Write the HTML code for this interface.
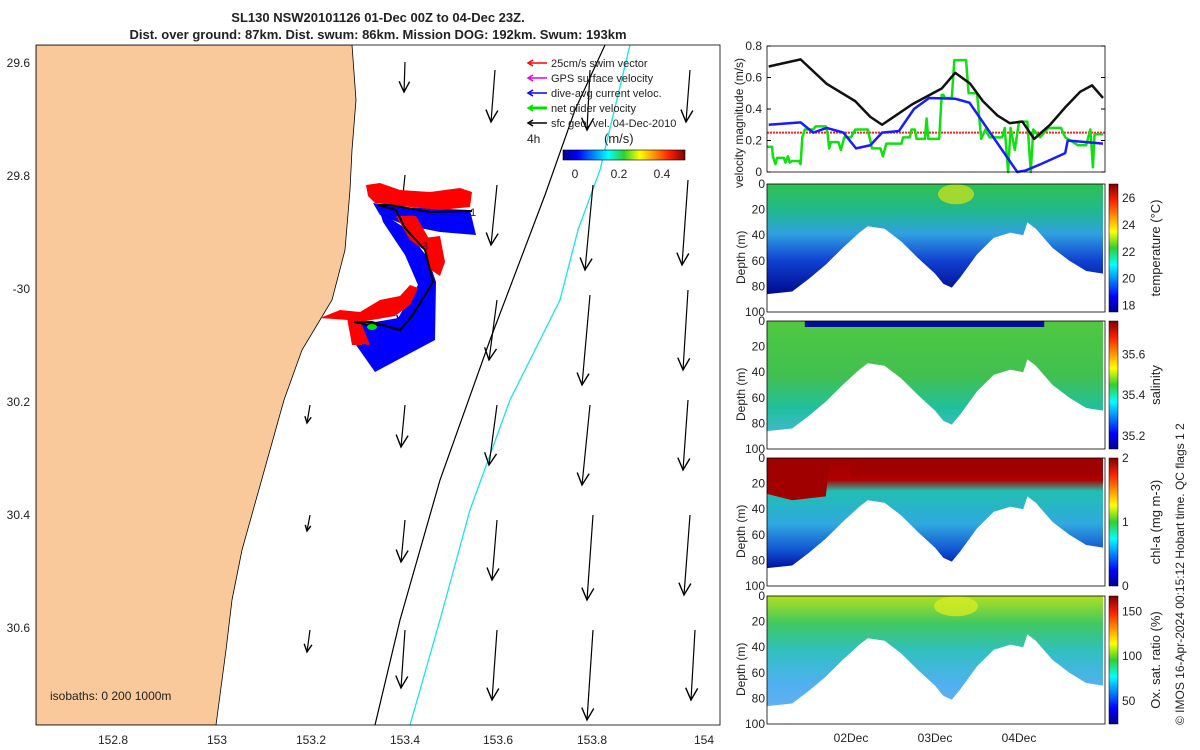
<!DOCTYPE html>
<html><head><meta charset="utf-8"><style>
body{margin:0;background:#fff;font-family:"Liberation Sans",sans-serif}
svg{display:block}
text{font-family:"Liberation Sans",sans-serif;fill:#222}
</style></head><body>
<svg id="s" width="1200" height="750" xmlns="http://www.w3.org/2000/svg">
<defs>
<linearGradient id="jet" x1="0" x2="1" y1="0" y2="0"><stop offset="0" stop-color="#00008f"/><stop offset="0.12" stop-color="#0000ff"/><stop offset="0.37" stop-color="#00ffff"/><stop offset="0.5" stop-color="#30d030"/><stop offset="0.63" stop-color="#ffff00"/><stop offset="0.87" stop-color="#ff2000"/><stop offset="1" stop-color="#800000"/></linearGradient>
<linearGradient id="jetv" x1="0" x2="0" y1="1" y2="0"><stop offset="0" stop-color="#00008f"/><stop offset="0.12" stop-color="#0000ff"/><stop offset="0.37" stop-color="#00ffff"/><stop offset="0.5" stop-color="#30d030"/><stop offset="0.63" stop-color="#ffff00"/><stop offset="0.87" stop-color="#ff2000"/><stop offset="1" stop-color="#800000"/></linearGradient>
<linearGradient id="gT" x1="0" x2="0" y1="0" y2="1"><stop offset="0" stop-color="#30c050"/><stop offset="0.25" stop-color="#20b890"/><stop offset="0.45" stop-color="#30a0e0"/><stop offset="0.7" stop-color="#1040d0"/><stop offset="1" stop-color="#000a90"/></linearGradient>
<linearGradient id="gS" x1="0" x2="0" y1="0" y2="1"><stop offset="0" stop-color="#50c840"/><stop offset="0.5" stop-color="#40c050"/><stop offset="0.8" stop-color="#20c0a0"/><stop offset="1" stop-color="#40b8c8"/></linearGradient>
<linearGradient id="gC" x1="0" x2="0" y1="0" y2="1"><stop offset="0" stop-color="#a00000"/><stop offset="0.2" stop-color="#b00000"/><stop offset="0.3" stop-color="#20c0b0"/><stop offset="0.6" stop-color="#30a8e0"/><stop offset="0.85" stop-color="#1050d0"/><stop offset="1" stop-color="#0010a0"/></linearGradient>
<linearGradient id="gO" x1="0" x2="0" y1="0" y2="1"><stop offset="0" stop-color="#b0e020"/><stop offset="0.25" stop-color="#40c860"/><stop offset="0.5" stop-color="#30c0c0"/><stop offset="0.8" stop-color="#50b0f0"/><stop offset="1" stop-color="#60b0f0"/></linearGradient>
<clipPath id="mapclip"><rect x="36" y="45" width="684" height="680"/></clipPath>
</defs>
<text x="378" y="22" font-size="13" font-weight="bold" text-anchor="middle">SL130 NSW20101126 01-Dec 00Z to 04-Dec 23Z.</text>
<text x="378" y="39" font-size="13" font-weight="bold" text-anchor="middle">Dist. over ground: 87km. Dist. swum: 86km. Mission DOG: 192km. Swum: 193km</text>
<g id="map" clip-path="url(#mapclip)"></g>
<rect x="36" y="45" width="684" height="680" fill="none" stroke="#000" stroke-width="0.8"/>
<g id="mapaxes"></g>
<g id="legend"></g>
<g id="right"></g>
<text transform="translate(1184,725) rotate(-90)" font-size="12">© IMOS 16-Apr-2024 00:15:12 Hobart time. QC flags 1  2</text>
</svg>
<script>
const NS="http://www.w3.org/2000/svg";
function el(p,tag,attrs,txt){const e=document.createElementNS(NS,tag);for(const k in attrs)e.setAttribute(k,attrs[k]);if(txt!==undefined)e.textContent=txt;p.appendChild(e);return e;}
const map=document.getElementById('map'),ax=document.getElementById('mapaxes'),lg=document.getElementById('legend'),R=document.getElementById('right');

// ---------- map data ----------
const lonTicks=["152.8","153","153.2","153.4","153.6","153.8","154"];
const lonTickX=[113,217,311,405,498,592,704];
const latTicks=["29.6","29.8","-30","30.2","30.4","30.6"];
const coastLat=[45,100,150,190,250,300,350,400,450,500,550,600,650,725];
const coastLon=[352,356,352,350,345,332,302,284,270,256,242,232,226,216];
const iso200=[[375,725],[400,620],[440,480],[490,340],[545,195],[575,110],[605,45]];
const iso1000=[[410,725],[440,620],[470,510],[510,400],[560,300],[578,230],[600,170],[630,45]];
const arrows=[[405,62,-1,30],[495,70,-4,52],[590,70,-3,60],[690,70,-4,52],
[405,175,-3,30],[497,185,-6,60],[593,185,-8,85],[688,180,-6,85],
[405,295,-4,32],[497,300,-8,60],[590,295,-8,90],[688,290,-5,80],
[310,405,-3,18],[405,405,-4,42],[497,405,-8,60],[590,405,-8,80],[688,400,-5,70],
[310,515,-3,16],[405,520,-4,42],[497,520,-5,60],[593,515,-6,85],[690,515,-6,80],
[310,630,-3,22],[405,630,-4,58],[497,630,-5,70],[593,630,-6,90],[695,630,-4,70]];

function sc(x,y){return x+","+y}
let lp="36,45 "+coastLat.map((y,i)=>sc(coastLon[i],y)).join(" ")+" 36,725";
let land=el(map,'polygon',{points:lp,fill:'#f9c99b',stroke:'#000','stroke-width':0.8});


let i2=el(map,'polyline',{points:iso200.map(p=>p.join(",")).join(" "),fill:'none',stroke:'#000','stroke-width':1.2});


let i1=el(map,'polyline',{points:iso1000.map(p=>p.join(",")).join(" "),fill:'none',stroke:'#20e0e0','stroke-width':1.3});


arrows.forEach(a=>{
  const g=el(map,'g',{});
  
  
  const x2=a[0]+a[2],y2=a[1]+a[3];
  el(g,'line',{x1:a[0],y1:a[1],x2:x2,y2:y2,stroke:'#000','stroke-width':1.2});
  const L=Math.hypot(a[2],a[3]),ux=a[2]/L,uy=a[3]/L,h=Math.min(12,L*0.35);
  el(g,'polyline',{points:[(x2-ux*h-uy*h*0.5)+","+(y2-uy*h+ux*h*0.5),x2+","+y2,(x2-ux*h+uy*h*0.5)+","+(y2-uy*h-ux*h*0.5)].join(" "),fill:'none',stroke:'#000','stroke-width':1.4});
});
// glider swaths
const bluePolys=["373,203 400,207 470,210 476,235 440,232 405,225 380,215",
"380,212 405,228 428,258 436,282 435,340 375,372 356,345 358,325 398,318 418,285 405,255 383,222"];
const redPolys=["366,185 380,183 400,190 430,192 460,188 472,192 470,207 440,210 400,206 375,203 368,196",
"396,216 416,216 432,244 424,250 410,240",
"424,238 440,236 445,262 440,276 428,268",
"320,318 340,310 360,312 380,300 400,296 410,285 418,288 410,305 395,316 360,322 355,343 370,345 362,325 348,320",
"347,318 360,320 362,345 352,345"];
bluePolys.forEach(p=>{let e=el(map,'polygon',{points:p,fill:'#0000ff'});
 
 });
redPolys.forEach(p=>{let e=el(map,'polygon',{points:p,fill:'#ff0000'});
 
 });
let tr=el(map,'polyline',{points:"472,211 430,212 390,205 378,205 396,210 405,228 425,250 433,282 412,316 400,330 383,325 370,325 354,322 372,322 400,330",fill:'none',stroke:'#000','stroke-width':2});


el(map,'ellipse',{cx:372,cy:327,rx:5,ry:3,fill:'#00e000'});
el(map,'text',{x:470,y:216,'font-size':11},"1");
el(map,'text',{x:422,y:250,'font-size':11},"3");
el(map,'text',{x:50,y:700,'font-size':12},"isobaths: 0   200  1000m");

lonTicks.forEach((t,i)=>{let e=el(ax,'text',{x:lonTickX[i],y:744,'font-size':12,'text-anchor':'middle'},t);
 });
latTicks.forEach((t,i)=>{let y=63+113*i;let e=el(ax,'text',{x:30,y:y+4,'font-size':12,'text-anchor':'end'},t);
 });

const legItems=[["25cm/s swim vector","#ff0000"],["GPS surface velocity","#e000e0"],["dive-avg current veloc.","#0000ff"],["net glider velocity","#00e000"],["sfc geo. vel. 04-Dec-2010","#000"]];
legItems.forEach((it,i)=>{const y=63+15*i;const g=el(lg,'g',{});
 
 el(g,'line',{x1:547,y1:y,x2:530,y2:y,stroke:it[1],'stroke-width':i==3?3:1.5});
 el(g,'polyline',{points:"533,"+(y-3)+" 528,"+y+" 533,"+(y+3),fill:'none',stroke:it[1],'stroke-width':1.5});
 el(g,'text',{x:551,y:y+4,'font-size':11},it[0]);});
el(lg,'text',{x:527,y:143,'font-size':12},"4h");
el(lg,'text',{x:604,y:143,'font-size':13},"(m/s)");
let cb=el(lg,'rect',{x:563,y:150,width:122,height:10,fill:'url(#jet)',stroke:'#000','stroke-width':0.6});

[["0",575],["0.2",619],["0.4",662]].forEach(t=>el(lg,'text',{x:t[1],y:178,'font-size':12,'text-anchor':'middle'},t[0]));

// ---------- velocity panel data ----------
const vTicks=[0,0.2,0.4,0.6,0.8];
const blackT=[0.02,0.40,0.71,1.05,1.23,1.37,1.73,2.08,2.24,2.42,2.57,2.74,2.89,3.04,3.18,3.37,3.55,3.73,3.87,4.0];
const blackV=[0.67,0.715,0.56,0.45,0.35,0.30,0.43,0.53,0.63,0.56,0.45,0.36,0.31,0.32,0.21,0.30,0.41,0.51,0.55,0.47];
const blueT=[0.02,0.40,0.55,0.71,0.91,1.06,1.23,1.37,1.57,1.75,1.93,2.24,2.41,2.98,3.08,3.26,3.55,3.58,4.0];
const blueV=[0.30,0.315,0.25,0.28,0.25,0.15,0.17,0.25,0.26,0.40,0.47,0.465,0.44,0.0,0.01,0.05,0.12,0.20,0.18];
const greenT=[0,0.06,0.07,0.1,0.12,0.2,0.22,0.25,0.27,0.3,0.38,0.4,0.42,0.45,0.55,0.58,0.7,0.72,0.74,0.76,0.85,0.88,0.92,1.0,1.05,1.2,1.25,1.35,1.38,1.42,1.6,1.62,1.7,1.72,1.76,1.78,1.88,1.9,1.92,2.05,2.08,2.1,2.12,2.2,2.23,2.37,2.4,2.5,2.55,2.6,2.65,2.8,2.83,2.87,2.9,2.95,3.0,3.1,3.14,3.17,3.25,3.35,3.5,3.55,3.7,3.8,3.85,3.88,3.9,4.0];
const greenV=[0.16,0.16,0.1,0.05,0.09,0.09,0.06,0.1,0.06,0.07,0.07,0.05,0.22,0.27,0.27,0.29,0.29,0.25,0.15,0.19,0.19,0.14,0.22,0.22,0.27,0.27,0.15,0.15,0.1,0.18,0.18,0.22,0.22,0.27,0.27,0.21,0.21,0.34,0.21,0.21,0.49,0.49,0.47,0.47,0.71,0.71,0.5,0.5,0.21,0.27,0.22,0.22,0.28,0.0,0.28,0.14,0.32,0.32,0.0,0.27,0.22,0.28,0.28,0.22,0.17,0.17,0.27,0.03,0.24,0.24];
const swimV=0.25;
const dayTicks=["02Dec","03Dec","04Dec"];
const profT=[0,0.3,0.5,0.7,0.9,1.1,1.2,1.4,1.6,1.8,2.0,2.1,2.2,2.3,2.5,2.7,2.9,3.05,3.1,3.2,3.4,3.6,3.8,4.0];
const profD=[86,84,74,63,50,38,33,35,45,58,70,78,81,73,55,42,38,40,30,35,50,60,68,70];

const X0=767,X1=1105;
const tx=t=>X0+84*t;
const vy=v=>172-v*157.5;
const vp=el(R,'g',{});
vTicks.forEach(v=>{el(vp,'text',{x:762,y:vy(v)+4,'font-size':12,'text-anchor':'end'},String(v));
 el(vp,'line',{x1:X0,x2:X0+4,y1:vy(v),y2:vy(v),stroke:'#000'});el(vp,'line',{x1:X1,x2:X1-4,y1:vy(v),y2:vy(v),stroke:'#000'});});
el(vp,'text',{transform:'translate(743,188) rotate(-90)','font-size':12},"velocity magnitude (m/s)");
function line(g,T,V,col,w,name){const e=el(g,'polyline',{points:T.map((t,i)=>tx(t)+","+vy(V[i])).join(" "),fill:'none',stroke:col,'stroke-width':w,'stroke-linejoin':'round'});
 }
let sw=el(vp,'line',{x1:X0,x2:X1,y1:vy(swimV),y2:vy(swimV),stroke:'#ff2020','stroke-width':2,'stroke-dasharray':'2,1'});

line(vp,greenT,greenV,'#10e010',2.5,'net-glider-velocity-line');
line(vp,blueT,blueV,'#1a1aff',2.5,'dive-avg-current-line');
line(vp,blackT,blackV,'#111',2.5,'geostrophic-velocity-line');
el(vp,'rect',{x:X0,y:46,width:X1-X0,height:126,fill:'none',stroke:'#000','stroke-width':0.8});

const panels=[
 {top:184,grad:'gT',name:'temperature-panel',label:'temperature (°C)',ticks:["18","20","22","24","26"],tpos:[0.05,0.26,0.47,0.68,0.89]},
 {top:321,grad:'gS',name:'salinity-panel',label:'salinity',ticks:["35.2","35.4","35.6"],tpos:[0.1,0.42,0.74]},
 {top:458,grad:'gC',name:'chlorophyll-panel',label:'chl-a (mg m-3)',ticks:["0","1","2"],tpos:[0,0.5,1]},
 {top:596,grad:'gO',name:'oxygen-panel',label:'Ox. sat. ratio (%)',ticks:["50","100","150"],tpos:[0.18,0.53,0.88]}];
const H=128;
panels.forEach((p,k)=>{
 const g=el(R,'g',{});
 
 
 const dy=d=>p.top+d*H/100;
 let pts=tx(0)+","+dy(0)+" "+profT.map((t,i)=>tx(t)+","+dy(profD[i])).join(" ")+" "+tx(4)+","+dy(0);
 const poly=el(g,'polygon',{points:pts,fill:'url(#'+p.grad+')',stroke:'none'});
 
 
 if(k==1){el(g,'rect',{x:tx(0.45),y:dy(0),width:tx(3.3)-tx(0.45),height:6,fill:'#001090'});}
 if(k==2){el(g,'polygon',{points:tx(0)+","+dy(0)+" "+tx(0.75)+","+dy(0)+" "+tx(0.7)+","+dy(30)+" "+tx(0.3)+","+dy(33)+" "+tx(0)+","+dy(28),fill:'#a00000'});
   el(g,'rect',{x:tx(1.0),y:dy(0),width:tx(4)-tx(1.0),height:18,fill:'#a00000'});}
 if(k==0){el(g,'ellipse',{cx:tx(2.25),cy:dy(8),rx:18,ry:10,fill:'#c0e020',opacity:0.8});}
 if(k==3){el(g,'ellipse',{cx:tx(2.25),cy:dy(8),rx:22,ry:10,fill:'#e0f020',opacity:0.7});}
 ["0","20","40","60","80","100"].forEach((t,i)=>{el(g,'text',{x:765,y:dy(i*20)+4,'font-size':12,'text-anchor':'end'},t);});
 el(g,'text',{transform:'translate('+745+','+(p.top+100)+') rotate(-90)','font-size':12},"Depth (m)");
 el(g,'rect',{x:X0,y:p.top,width:X1-X0,height:H,fill:'none',stroke:'#000','stroke-width':0.8});
 const c=el(g,'rect',{x:1109,y:p.top,width:9,height:H,fill:'url(#jetv)',stroke:'#000','stroke-width':0.5});
 
 p.ticks.forEach((t,i)=>el(g,'text',{x:1122,y:p.top+H-p.tpos[i]*H+4,'font-size':12},t));
 el(g,'text',{transform:'translate(1160,'+(p.top+H/2)+') rotate(-90)','font-size':13,'text-anchor':'middle'},p.label);
});
dayTicks.forEach((d,i)=>{const e=el(R,'text',{x:tx(i+1),y:742,'font-size':12,'text-anchor':'middle'},d);
 });
</script>
</body></html>
